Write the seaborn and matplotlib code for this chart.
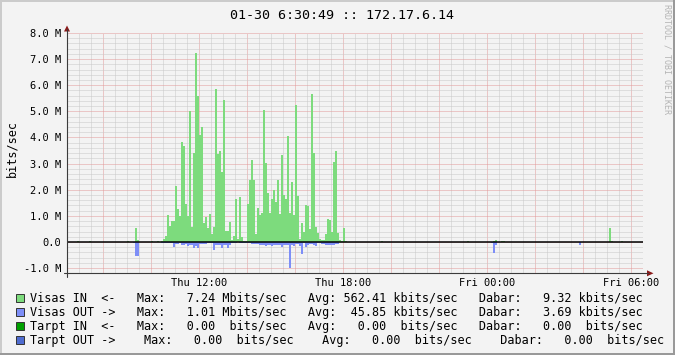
import matplotlib
matplotlib.use("Agg")
import matplotlib.pyplot as plt
import seaborn as sns
import numpy as np
import pandas as pd
from matplotlib.ticker import MultipleLocator, FixedLocator, FixedFormatter, FuncFormatter
from matplotlib.patches import Rectangle, Polygon
from matplotlib.lines import Line2D

# ---------------- data ----------------
title_text = "01-30 6:30:49 :: 172.17.6.14"
y_label = "bits/sec"
watermark = "RRDTOOL / TOBI OETIKER"

start_hour = 6.5          # Thu 06:30, in hours since Thu 00:00
steps_per_hour = 12       # 5-minute consolidated steps
n_steps = 288             # 24 hours shown

x_tick_hours = [12, 18, 24, 30]
x_tick_labels = ["Thu 12:00", "Thu 18:00", "Fri 00:00", "Fri 06:00"]
y_tick_values = [-1, 0, 1, 2, 3, 4, 5, 6, 7, 8]
y_tick_labels = ["-1.0 M", "0.0", "1.0 M", "2.0 M", "3.0 M", "4.0 M",
                 "5.0 M", "6.0 M", "7.0 M", "8.0 M"]

# Visas IN (Mbit/s), busy period starting at step 47
in_burst_first_step = 47
in_burst = [0.05, 0.10,
            0.23, 1.05, 0.61, 0.79, 0.79, 2.15, 1.25, 1.00, 3.83, 3.68,
            1.46, 1.00, 5.03, 0.59, 3.40, 7.24, 5.59, 4.11, 4.39, 0.74,
            0.97, 0.54, 1.07, 0.31, 0.59, 5.85, 3.37, 3.50, 2.66, 5.44,
            0.41, 0.41, 0.77, 0.08, 0.23, 1.63, 0.13, 1.74, 0.20, 0.03,
            0.03, 1.46, 2.38, 3.14, 2.38, 0.31, 1.30, 1.02, 1.10, 5.06,
            3.01, 1.86, 1.10, 1.63, 1.99, 1.53, 2.38, 1.07, 3.32, 1.79,
            1.63, 4.06, 1.10, 2.30, 1.02, 5.26, 1.76, 0.10, 0.74, 0.39,
            1.40, 1.37, 0.49, 5.67, 3.40, 0.56, 0.33, 0.10, 0.08, 0.08,
            0.31, 0.87, 0.84, 0.38, 3.07, 3.50, 0.36, 0.08, 0.03, 0.54,
            0.05]
in_sparse_steps = [5, 11, 30, 34, 35, 42, 45, 157, 200, 213, 214, 217, 218, 271, 272, 277]
in_sparse_values = [0.05, 0.05, 0.05, 0.55, 0.09, 0.05, 0.05, 0.05, 0.05, 0.05,
                    0.06, 0.05, 0.05, 0.54, 0.05, 0.05]

# Visas OUT (Mbit/s, drawn negative), busy period starting at step 47
out_burst_first_step = 47
out_burst = [-0.03, -0.03, -0.04, -0.04, -0.04, -0.05, -0.18, -0.09, -0.09, -0.05,
             -0.13, -0.13, -0.08, -0.17, -0.13, -0.13, -0.24, -0.15, -0.22, -0.09,
             -0.09, -0.09, -0.08, -0.04, -0.04, -0.04, -0.32, -0.10, -0.10, -0.10,
             -0.24, -0.11, -0.12, -0.23, -0.10, -0.05, -0.03, -0.03, 0.00, -0.03,
             -0.05, -0.05, -0.05, -0.04, -0.03, -0.06, -0.08, -0.08, -0.06, -0.12,
             -0.10, -0.13, -0.15, -0.10, -0.12, -0.14, -0.10, -0.10, -0.11, -0.10,
             -0.18, -0.12, -0.12, -0.10, -1.01, -0.11, -0.16, -0.07, -0.07, -0.14,
             -0.47, -0.05, -0.20, -0.12, -0.06, -0.06, -0.10, -0.14, -0.05, -0.05,
             -0.06, -0.08, -0.10, -0.10, -0.12, -0.12, -0.10, -0.08, -0.06, -0.02,
             -0.02]
out_sparse_steps = [33, 34, 35, 212, 213, 214, 256]
out_sparse_values = [-0.03, -0.54, -0.54, -0.05, -0.41, -0.13, -0.10]

legend_names = ["Visas IN  <-", "Visas OUT ->", "Tarpt IN  <-", "Tarpt OUT ->"]
legend_stats = [
    "   Max:   7.24 Mbits/sec   Avg: 562.41 kbits/sec   Dabar:   9.32 kbits/sec",
    "   Max:   1.01 Mbits/sec   Avg:  45.85 kbits/sec   Dabar:   3.69 kbits/sec",
    "   Max:   0.00  bits/sec   Avg:   0.00  bits/sec   Dabar:   0.00  bits/sec",
    "    Max:   0.00  bits/sec    Avg:   0.00  bits/sec    Dabar:   0.00  bits/sec",
]
legend_colors = ["#7ddb7d", "#7d8ef7", "#00a000", "#4f6cd0"]

# ---------------- assemble ----------------
visas_in = np.zeros(n_steps)
visas_in[in_burst_first_step:in_burst_first_step + len(in_burst)] = in_burst
visas_in[in_sparse_steps] = in_sparse_values
visas_out = np.zeros(n_steps)
visas_out[out_burst_first_step:out_burst_first_step + len(out_burst)] = out_burst
visas_out[out_sparse_steps] = out_sparse_values
hours = start_hour + (np.arange(n_steps) + 0.5) / steps_per_hour
df = pd.DataFrame({"hour": hours, "in": visas_in, "out": visas_out})

# ---------------- style ----------------
W, H = 675, 355
bg = "#f3f3f3"
axis_c = "#3c3c3c"
arrow_c = "#8b1a1a"
sns.set_style("white")
plt.rcParams["font.family"] = ["DejaVu Sans Mono", "DejaVu Sans"]


def fx(px):
    return px / W


def fy(py):
    return 1 - py / H


fig = plt.figure(figsize=(W / 100, H / 100), dpi=100, facecolor=bg)
top_px, bot_px, left_px, right_px = 33.0, 273.3, 67.0, 643.0
ax = fig.add_axes([fx(left_px), fy(bot_px), (right_px - left_px) / W, (bot_px - top_px) / H])
ax.set_facecolor(bg)

sns.barplot(data=df, x="hour", y="in", native_scale=True, width=1.02, orient="x",
            color=legend_colors[0], saturation=1, errorbar=None,
            linewidth=0, edgecolor="none", antialiased=False, zorder=2, ax=ax)
sns.barplot(data=df, x="hour", y="out", native_scale=True, width=1.02, orient="x",
            color=legend_colors[1], saturation=1, errorbar=None,
            linewidth=0, edgecolor="none", antialiased=False, zorder=2, ax=ax)

ax.set_xlim(start_hour, start_hour + n_steps / steps_per_hour)
ax.set_ylim(-1.2, 8.0)
ax.set_xlabel("")
ax.set_ylabel("")

ax.xaxis.set_major_locator(MultipleLocator(2))
ax.xaxis.set_minor_locator(MultipleLocator(0.5))
lab = dict(zip(x_tick_hours, x_tick_labels))
ax.xaxis.set_major_formatter(FuncFormatter(lambda v, p: lab.get(int(round(v)), "") if abs(v - round(v)) < 1e-6 else ""))
ax.yaxis.set_major_locator(FixedLocator(y_tick_values))
ax.yaxis.set_major_formatter(FixedFormatter(y_tick_labels))
ax.yaxis.set_minor_locator(MultipleLocator(0.2))

ax.set_axisbelow(True)
ax.grid(which="minor", color="#c9c9c9", lw=0.72, linestyle=(0, (1, 1)))
ax.grid(which="major", color="#e39a9a", lw=0.72, linestyle=(0, (1, 1)))
ax.axhline(0, color="black", lw=1.1, zorder=4)

for s in ax.spines.values():
    s.set_visible(False)
ax.tick_params(which="both", direction="inout", length=2.2, width=0.72, color=axis_c)
ax.tick_params(axis="y", which="major", labelsize=7.45, pad=3.0, labelcolor="black")
ax.tick_params(axis="x", which="major", labelsize=7.45, pad=2.0, labelcolor="black")

# axis lines with arrows
fig.add_artist(Line2D([fx(67), fx(67)], [fy(276.5), fy(29)], color=axis_c, lw=0.8))
fig.add_artist(Line2D([fx(63.5), fx(648)], [fy(273.3), fy(273.3)], color=axis_c, lw=0.8))
fig.add_artist(Polygon([(fx(64), fy(31.5)), (fx(70), fy(31.5)), (fx(67), fy(25.5))],
                       closed=True, color=arrow_c, lw=0))
fig.add_artist(Polygon([(fx(647), fy(270.3)), (fx(647), fy(276.3)), (fx(653.5), fy(273.3))],
                       closed=True, color=arrow_c, lw=0))

# title, labels, watermark
fig.text(fx(342.5), fy(18.9), title_text, ha="center", va="baseline", fontsize=9.6, color="black")
fig.text(fx(12.0), fy(148.5), y_label, ha="center", va="center", rotation=90, fontsize=8.5, color="black")
fig.text(fx(667), fy(4), watermark, ha="center", va="top", rotation=270, fontsize=6.0, color="#b4b4b4")

# legend
for i, (name, stats, col) in enumerate(zip(legend_names, legend_stats, legend_colors)):
    cy = 298 + 14 * i
    fig.add_artist(Rectangle((fx(16), fy(cy + 4)), 8 / W, 8 / H, facecolor=col,
                             edgecolor="#333333", lw=0.7))
    fig.text(fx(30), fy(cy + 4.3), name + stats, ha="left", va="baseline", fontsize=8.45, color="black")

# 3D frame
fig.add_artist(Line2D([0, 1], [fy(0.5), fy(0.5)], color="#cbcbcb", lw=1.44))
fig.add_artist(Line2D([fx(0.5), fx(0.5)], [0, 1], color="#cbcbcb", lw=1.44))
fig.add_artist(Line2D([0, 1], [fy(354), fy(354)], color="#999999", lw=1.44))
fig.add_artist(Line2D([fx(674), fx(674)], [0, 1], color="#999999", lw=1.44))

fig.savefig("out.png", dpi=100, facecolor=bg)
